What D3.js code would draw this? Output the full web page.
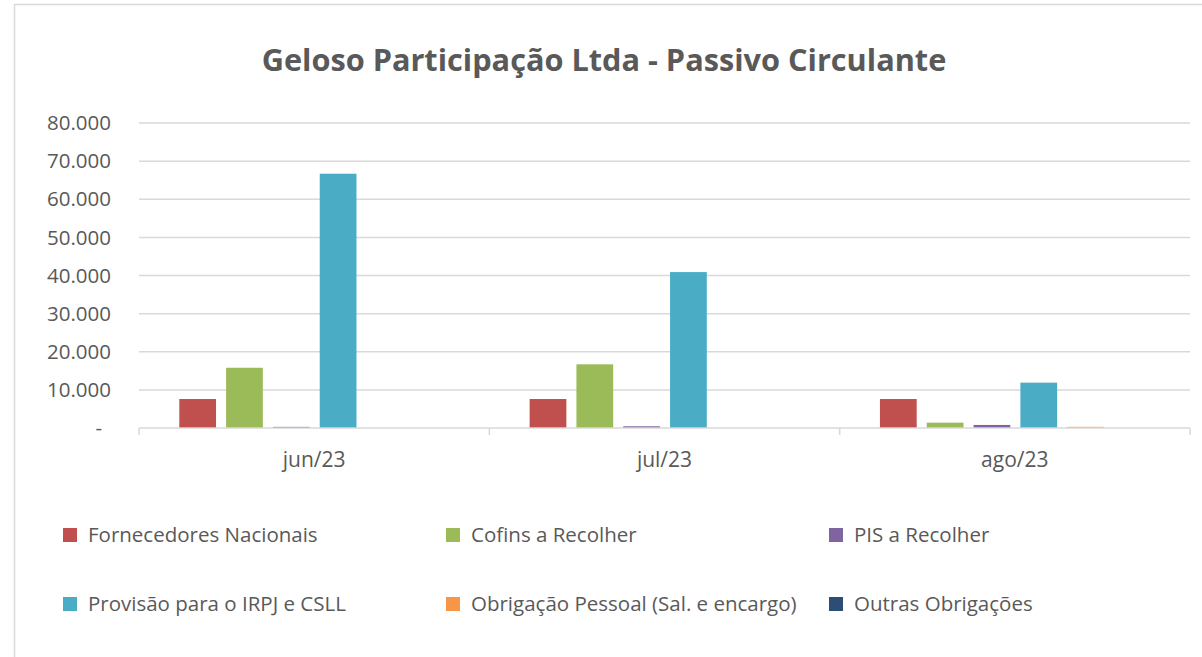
<!DOCTYPE html>
<meta charset="utf-8">

<head>
    <title>Passivo Circulante</title>
</head>

<style>
    body { margin: 0; background: #fff; }
    text { font-family: "Open Sans", sans-serif; fill: #595959; }
</style>

<body>
    <div id="content">
        <svg width="1202" height="657"></svg>
    </div>

    <script src="https://cdnjs.cloudflare.com/ajax/libs/d3/7.8.5/d3.min.js"></script>
    <script>
        var width = 1202, height = 657

        // data
        var months = ['jun/23', 'jul/23', 'ago/23']
        var seriesNames = ['Fornecedores Nacionais', 'Cofins a Recolher', 'PIS a Recolher',
            'Provisão para o IRPJ e CSLL', 'Obrigação Pessoal (Sal. e encargo)', 'Outras Obrigações']
        var fornecedores = [7600, 7600, 7600]
        var cofins = [15800, 16700, 1400]
        var pis = [300, 450, 800]
        var irpj = [66700, 40900, 11900]
        var obrigacaoPessoal = [0, 0, 300]
        var outras = [0, 0, 0]
        var yTicks = [0, 10000, 20000, 30000, 40000, 50000, 60000, 70000, 80000]
        var colors = ['#C0504D', '#9BBB59', '#8064A2', '#4BACC6', '#F79646', '#2C4D75']

        var values = [fornecedores, cofins, pis, irpj, obrigacaoPessoal, outras]
        var rows = months.map(function (m, i) {
            return { month: m, vals: values.map(function (s, j) { return { key: seriesNames[j], v: s[i], c: colors[j] } }) }
        })

        var svg = d3.select('svg')

        // outer chart border
        svg.append('rect')
            .attr('x', 14.5).attr('y', 4.5)
            .attr('width', 1200).attr('height', 700)
            .attr('fill', 'none').attr('stroke', '#d9d9d9').attr('stroke-width', 1.5)

        var plotLeft = 139, plotRight = 1190, plotTop = 123, plotBottom = 428

        var y = d3.scaleLinear().domain([0, 80000]).range([plotBottom, plotTop])
        var x0 = d3.scaleBand().domain(months).range([plotLeft, plotRight]).padding(0)
        var bw = x0.bandwidth()
        var x1 = d3.scaleBand().domain(seriesNames)
            .range([bw * 0.115, bw * 0.888]).paddingInner(0.215)

        // gridlines
        svg.append('g').selectAll('line')
            .data(yTicks.slice(1))
            .enter().append('line')
            .attr('x1', plotLeft).attr('x2', plotRight)
            .attr('y1', function (d) { return y(d) }).attr('y2', function (d) { return y(d) })
            .attr('stroke', '#d9d9d9').attr('stroke-width', 1.5)

        // y labels
        var fmt = function (d) { return d === 0 ? '-' : d3.format(',')(d).replace(/,/g, '.') }
        svg.append('g').selectAll('text')
            .data(yTicks)
            .enter().append('text')
            .attr('x', function (d) { return d === 0 ? 102 : 111 })
            .attr('y', function (d) { return y(d) })
            .attr('dy', '0.35em')
            .attr('text-anchor', 'end')
            .style('font-size', '20.5px')
            .text(fmt)

        // bars
        var groups = svg.append('g').selectAll('g')
            .data(rows)
            .enter().append('g')
            .attr('transform', function (d) { return 'translate(' + x0(d.month) + ',0)' })

        groups.selectAll('rect')
            .data(function (d) { return d.vals })
            .enter().append('rect')
            .attr('x', function (d) { return x1(d.key) })
            .attr('width', x1.bandwidth())
            .attr('y', function (d) { return y(d.v) })
            .attr('height', function (d) { return y(0) - y(d.v) })
            .attr('fill', function (d) { return d.c })

        // x axis
        var xAxis = svg.append('g')
        xAxis.append('line')
            .attr('x1', plotLeft).attr('x2', plotRight)
            .attr('y1', plotBottom).attr('y2', plotBottom)
            .attr('stroke', '#d9d9d9').attr('stroke-width', 1.5)
        xAxis.selectAll('line.tick')
            .data(months.map(function (m) { return x0(m) }).concat([plotRight]))
            .enter().append('line')
            .attr('class', 'tick')
            .attr('x1', function (d) { return d }).attr('x2', function (d) { return d })
            .attr('y1', plotBottom).attr('y2', plotBottom + 7)
            .attr('stroke', '#d9d9d9').attr('stroke-width', 1.5)
        xAxis.selectAll('text')
            .data(months)
            .enter().append('text')
            .attr('x', function (d) { return x0(d) + bw / 2 })
            .attr('y', 467)
            .attr('text-anchor', 'middle')
            .style('font-size', '21px')
            .text(function (d) { return d })

        // title
        svg.append('text')
            .attr('x', 604).attr('y', 71)
            .attr('text-anchor', 'middle')
            .style('font-size', '30.7px').style('font-weight', 'bold')
            .text('Geloso Participação Ltda - Passivo Circulante')

        // legend
        var legX = [63, 446, 829], legY = [535, 604]
        var leg = svg.append('g').selectAll('g')
            .data(seriesNames)
            .enter().append('g')
            .attr('transform', function (d, i) { return 'translate(' + legX[i % 3] + ',' + legY[Math.floor(i / 3)] + ')' })
        leg.append('rect')
            .attr('x', 0).attr('y', -7).attr('width', 14).attr('height', 14)
            .attr('fill', function (d, i) { return colors[i] })
        leg.append('text')
            .attr('x', 25).attr('dy', '0.35em')
            .style('font-size', '20.5px')
            .text(function (d) { return d })
    </script>
</body>

</html>
